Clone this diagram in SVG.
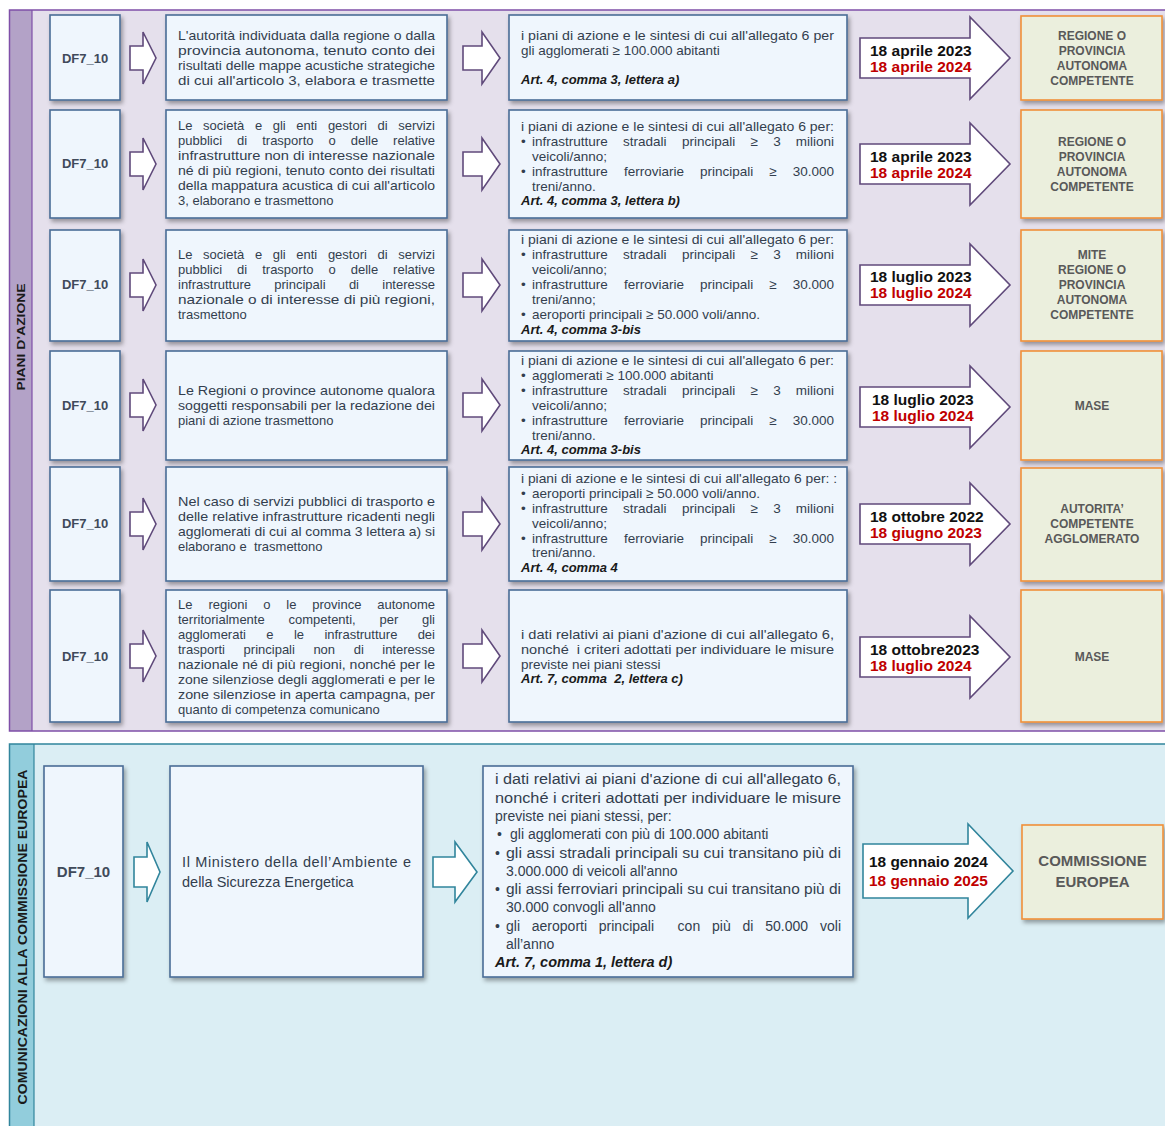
<svg xmlns="http://www.w3.org/2000/svg" width="1165" height="1126" viewBox="0 0 1165 1126">
<defs>
<filter id="sh" x="-10%" y="-10%" width="130%" height="130%">
<feDropShadow dx="2" dy="3" stdDeviation="2" flood-color="#000" flood-opacity="0.35"/>
</filter>
<path id="sa" d="M0,-12 H13 V-26 L26,0 L13,26 V12 H0 Z"/>
<path id="sa2" d="M0,-12 H19 V-26 L37,0 L19,26 V12 H0 Z"/>
<path id="ba" d="M0,-20 H110 V-41 L150,0 L110,41 V20 H0 Z"/>
<path id="tsa" d="M0,-15 H13 V-30 L26,0 L13,30 V15 H0 Z"/>
<path id="tsa2" d="M0,-15 H22 V-30 L44,0 L22,30 V15 H0 Z"/>
<path id="tba" d="M0,-27 H105 V-47 L150,0 L105,47 V27 H0 Z"/>
</defs>
<style>
text{font-family:"Liberation Sans",Arial,sans-serif}
.box{fill:#eff6fd;stroke:#4a6d96;stroke-width:1.6;filter:url(#sh)}
.dest{fill:#ebefdd;stroke:#f0903a;stroke-width:1.6;filter:url(#sh)}
.t{font-size:13px;fill:#333e4e}
.c{font-size:13.5px;fill:#333e4e}
.tb{font-size:14.5px;fill:#333e4e}
.tc{font-size:14px;fill:#333e4e}
.art{font-size:13px;font-weight:bold;font-style:italic;fill:#1a1a1a}
.artb{font-size:14.5px;font-weight:bold;font-style:italic;fill:#1a1a1a}
.df{font-size:13px;font-weight:bold;fill:#404a5a;text-anchor:middle}
.dfb{font-size:15px;font-weight:bold;fill:#404a5a;text-anchor:middle}
.dt{font-size:15.5px;font-weight:bold;fill:#111}
.dtb{font-size:15.4px;font-weight:bold;fill:#111}
.red{fill:#c00000}
.dn{font-size:12px;font-weight:bold;fill:#595959;text-anchor:middle}
.dnb{font-size:15px;font-weight:bold;fill:#595959;text-anchor:middle}
.ap{fill:#fff;stroke:#604a7b;stroke-width:1.6}
.at{fill:#fff;stroke:#31859c;stroke-width:1.6}
.lab{font-weight:bold;fill:#1a1a1a;text-anchor:middle}
.e{text-anchor:end}
</style>

<!-- sections -->
<g id="section-piani">
<rect x="9" y="10" width="1160" height="721" fill="#e5e0ec"/>
<rect x="9" y="10" width="23" height="721" fill="#b3a2c7"/>
<path d="M1165,10 H9.5 V731 H1165" fill="none" stroke="#7f4fa8" stroke-width="1.5"/>
<line x1="32" y1="10" x2="32" y2="731" stroke="#7f4fa8" stroke-width="1.2"/>
<text class="lab" font-size="11.5" transform="translate(25,337) rotate(-90)" textLength="107" lengthAdjust="spacingAndGlyphs">PIANI D’AZIONE</text>
</g>
<g id="section-ce">
<rect x="9" y="744" width="1160" height="390" fill="#dbeef4"/>
<rect x="9" y="744" width="25" height="390" fill="#92cddc"/>
<path d="M1165,744 H9.5 V1126" fill="none" stroke="#31859c" stroke-width="1.5"/>
<line x1="34" y1="744" x2="34" y2="1126" stroke="#31859c" stroke-width="1.2"/>
<text class="lab" font-size="13" transform="translate(26.5,937) rotate(-90)" textLength="335" lengthAdjust="spacingAndGlyphs">COMUNICAZIONI ALLA COMMISSIONE EUROPEA</text>
</g>

<!-- Row 1 -->
<g id="df1"><rect class="box" x="50" y="15" width="70" height="85"/><text class="df" x="85" y="62.5">DF7_10</text></g>
<g id="txt1"><rect class="box" x="166" y="15" width="281" height="85"/>
<text class="t" x="178" y="39.5" textLength="257" lengthAdjust="spacingAndGlyphs">L'autorità individuata dalla regione o dalla</text>
<text class="t" x="178" y="54.5" textLength="257" lengthAdjust="spacingAndGlyphs">provincia autonoma, tenuto conto dei</text>
<text class="t" x="178" y="69.5" textLength="257" lengthAdjust="spacingAndGlyphs">risultati delle mappe acustiche strategiche</text>
<text class="t" x="178" y="84.5" textLength="257" lengthAdjust="spacingAndGlyphs">di cui all'articolo 3, elabora e trasmette</text>
</g>
<g id="cnt1"><rect class="box" x="509" y="15" width="338" height="85"/>
<text class="c" x="521" y="39.5" textLength="313" lengthAdjust="spacingAndGlyphs">i piani di azione e le sintesi di cui all'allegato 6 per</text>
<text class="c" x="521" y="54.5">gli agglomerati ≥ 100.000 abitanti</text>
<text class="art" x="521" y="83.5">Art. 4, comma 3, lettera a)</text>
</g>
<g id="dest1"><rect class="dest" x="1021" y="16" width="141" height="84"/>
<text class="dn" x="1092" y="39.5">REGIONE O</text><text class="dn" x="1092" y="54.5">PROVINCIA</text><text class="dn" x="1092" y="69.5">AUTONOMA</text><text class="dn" x="1092" y="84.5">COMPETENTE</text>
</g>

<!-- Row 2 -->
<g id="df2"><rect class="box" x="50" y="110" width="70" height="108"/><text class="df" x="85" y="168">DF7_10</text></g>
<g id="txt2"><rect class="box" x="166" y="110" width="281" height="108"/>
<text class="t" y="129.5"><tspan x="178">Le </tspan><tspan x="203.1">società </tspan><tspan x="254.9">e </tspan><tspan x="272.7">gli </tspan><tspan x="296.3">enti </tspan><tspan x="327.9">gestori </tspan><tspan x="377.5">di </tspan><tspan x="435" class="e">servizi</tspan></text>
<text class="t" y="144.5"><tspan x="178">pubblici </tspan><tspan x="237.1">di </tspan><tspan x="262.2">trasporto </tspan><tspan x="328.5">o </tspan><tspan x="350.7">delle </tspan><tspan x="435" class="e">relative</tspan></text>
<text class="t" x="178" y="159.5" textLength="257" lengthAdjust="spacingAndGlyphs">infrastrutture non di interesse nazionale</text>
<text class="t" x="178" y="174.5" textLength="257" lengthAdjust="spacingAndGlyphs">né di più regioni, tenuto conto dei risultati</text>
<text class="t" x="178" y="189.5" textLength="257" lengthAdjust="spacingAndGlyphs">della mappatura acustica di cui all'articolo</text>
<text class="t" x="178" y="204.5">3, elaborano e trasmettono</text>
</g>
<g id="cnt2"><rect class="box" x="509" y="110" width="338" height="108"/>
<text class="c" x="521" y="130.5" textLength="313" lengthAdjust="spacingAndGlyphs">i piani di azione e le sintesi di cui all'allegato 6 per:</text>
<text class="c" x="521" y="145.5">•</text><text class="c" y="145.5"><tspan x="532">infrastrutture </tspan><tspan x="623.1">stradali </tspan><tspan x="681.9">principali </tspan><tspan x="750.5">≥ </tspan><tspan x="773.2">3 </tspan><tspan x="834" class="e">milioni</tspan></text>
<text class="c" x="532" y="160.5">veicoli/anno;</text>
<text class="c" x="521" y="175.5">•</text><text class="c" y="175.5"><tspan x="532">infrastrutture </tspan><tspan x="623.9">ferroviarie </tspan><tspan x="699.9">principali </tspan><tspan x="769.3">≥ </tspan><tspan x="834" class="e">30.000</tspan></text>
<text class="c" x="532" y="190.5">treni/anno.</text>
<text class="art" x="521" y="204.5">Art. 4, comma 3, lettera b)</text>
</g>
<g id="dest2"><rect class="dest" x="1021" y="110" width="141" height="108"/>
<text class="dn" x="1092" y="145.5">REGIONE O</text><text class="dn" x="1092" y="160.5">PROVINCIA</text><text class="dn" x="1092" y="175.5">AUTONOMA</text><text class="dn" x="1092" y="190.5">COMPETENTE</text>
</g>

<!-- Row 3 -->
<g id="df3"><rect class="box" x="50" y="230" width="70" height="111"/><text class="df" x="85" y="289">DF7_10</text></g>
<g id="txt3"><rect class="box" x="166" y="230" width="281" height="111"/>
<text class="t" y="258.5"><tspan x="178">Le </tspan><tspan x="203.1">società </tspan><tspan x="254.9">e </tspan><tspan x="272.7">gli </tspan><tspan x="296.3">enti </tspan><tspan x="327.9">gestori </tspan><tspan x="377.5">di </tspan><tspan x="435" class="e">servizi</tspan></text>
<text class="t" y="273.5"><tspan x="178">pubblici </tspan><tspan x="237.1">di </tspan><tspan x="262.2">trasporto </tspan><tspan x="328.5">o </tspan><tspan x="350.7">delle </tspan><tspan x="435" class="e">relative</tspan></text>
<text class="t" y="288.5"><tspan x="178">infrastrutture </tspan><tspan x="274.3">principali </tspan><tspan x="348.9">di </tspan><tspan x="435" class="e">interesse</tspan></text>
<text class="t" x="178" y="303.5" textLength="257" lengthAdjust="spacingAndGlyphs">nazionale o di interesse di più regioni,</text>
<text class="t" x="178" y="318.5">trasmettono</text>
</g>
<g id="cnt3"><rect class="box" x="509" y="230" width="338" height="111"/>
<text class="c" x="521" y="243.5" textLength="313" lengthAdjust="spacingAndGlyphs">i piani di azione e le sintesi di cui all'allegato 6 per:</text>
<text class="c" x="521" y="258.5">•</text><text class="c" y="258.5"><tspan x="532">infrastrutture </tspan><tspan x="623.1">stradali </tspan><tspan x="681.9">principali </tspan><tspan x="750.5">≥ </tspan><tspan x="773.2">3 </tspan><tspan x="834" class="e">milioni</tspan></text>
<text class="c" x="532" y="273.5">veicoli/anno;</text>
<text class="c" x="521" y="288.5">•</text><text class="c" y="288.5"><tspan x="532">infrastrutture </tspan><tspan x="623.9">ferroviarie </tspan><tspan x="699.9">principali </tspan><tspan x="769.3">≥ </tspan><tspan x="834" class="e">30.000</tspan></text>
<text class="c" x="532" y="303.5">treni/anno;</text>
<text class="c" x="521" y="318.5">•</text><text class="c" x="532" y="318.5">aeroporti principali ≥ 50.000 voli/anno.</text>
<text class="art" x="521" y="333.5">Art. 4, comma 3-bis</text>
</g>
<g id="dest3"><rect class="dest" x="1021" y="230" width="141" height="111"/>
<text class="dn" x="1092" y="258.5">MITE</text><text class="dn" x="1092" y="273.5">REGIONE O</text><text class="dn" x="1092" y="288.5">PROVINCIA</text><text class="dn" x="1092" y="303.5">AUTONOMA</text><text class="dn" x="1092" y="318.5">COMPETENTE</text>
</g>

<!-- Row 4 -->
<g id="df4"><rect class="box" x="50" y="351" width="70" height="109"/><text class="df" x="85" y="410">DF7_10</text></g>
<g id="txt4"><rect class="box" x="166" y="351" width="281" height="109"/>
<text class="t" x="178" y="394.5" textLength="257" lengthAdjust="spacingAndGlyphs">Le Regioni o province autonome qualora</text>
<text class="t" x="178" y="409.5" textLength="257" lengthAdjust="spacingAndGlyphs">soggetti responsabili per la redazione dei</text>
<text class="t" x="178" y="424.5">piani di azione trasmettono</text>
</g>
<g id="cnt4"><rect class="box" x="509" y="351" width="338" height="109"/>
<text class="c" x="521" y="364.5" textLength="313" lengthAdjust="spacingAndGlyphs">i piani di azione e le sintesi di cui all'allegato 6 per:</text>
<text class="c" x="521" y="379.5">•</text><text class="c" x="532" y="379.5">agglomerati ≥ 100.000 abitanti</text>
<text class="c" x="521" y="394.5">•</text><text class="c" y="394.5"><tspan x="532">infrastrutture </tspan><tspan x="623.1">stradali </tspan><tspan x="681.9">principali </tspan><tspan x="750.5">≥ </tspan><tspan x="773.2">3 </tspan><tspan x="834" class="e">milioni</tspan></text>
<text class="c" x="532" y="409.5">veicoli/anno;</text>
<text class="c" x="521" y="424.5">•</text><text class="c" y="424.5"><tspan x="532">infrastrutture </tspan><tspan x="623.9">ferroviarie </tspan><tspan x="699.9">principali </tspan><tspan x="769.3">≥ </tspan><tspan x="834" class="e">30.000</tspan></text>
<text class="c" x="532" y="439.5">treni/anno.</text>
<text class="art" x="521" y="453.5">Art. 4, comma 3-bis</text>
</g>
<g id="dest4"><rect class="dest" x="1021" y="351" width="141" height="109"/>
<text class="dn" x="1092" y="409.5">MASE</text>
</g>

<!-- Row 5 -->
<g id="df5"><rect class="box" x="50" y="467" width="70" height="114"/><text class="df" x="85" y="528">DF7_10</text></g>
<g id="txt5"><rect class="box" x="166" y="467" width="281" height="114"/>
<text class="t" x="178" y="505.5" textLength="257" lengthAdjust="spacingAndGlyphs">Nel caso di servizi pubblici di trasporto e</text>
<text class="t" x="178" y="520.5" textLength="257" lengthAdjust="spacingAndGlyphs">delle relative infrastrutture ricadenti negli</text>
<text class="t" x="178" y="535.5" textLength="257" lengthAdjust="spacingAndGlyphs">agglomerati di cui al comma 3 lettera a) si</text>
<text class="t" x="178" y="550.5" xml:space="preserve">elaborano e  trasmettono</text>
</g>
<g id="cnt5"><rect class="box" x="509" y="467" width="338" height="114"/>
<text class="c" x="521" y="482.5" textLength="316" lengthAdjust="spacingAndGlyphs">i piani di azione e le sintesi di cui all'allegato 6 per: :</text>
<text class="c" x="521" y="497.5">•</text><text class="c" x="532" y="497.5">aeroporti principali ≥ 50.000 voli/anno.</text>
<text class="c" x="521" y="512.5">•</text><text class="c" y="512.5"><tspan x="532">infrastrutture </tspan><tspan x="623.1">stradali </tspan><tspan x="681.9">principali </tspan><tspan x="750.5">≥ </tspan><tspan x="773.2">3 </tspan><tspan x="834" class="e">milioni</tspan></text>
<text class="c" x="532" y="527.5">veicoli/anno;</text>
<text class="c" x="521" y="542.5">•</text><text class="c" y="542.5"><tspan x="532">infrastrutture </tspan><tspan x="623.9">ferroviarie </tspan><tspan x="699.9">principali </tspan><tspan x="769.3">≥ </tspan><tspan x="834" class="e">30.000</tspan></text>
<text class="c" x="532" y="556.5">treni/anno.</text>
<text class="art" x="521" y="571.5">Art. 4, comma 4</text>
</g>
<g id="dest5"><rect class="dest" x="1021" y="468" width="141" height="113"/>
<text class="dn" x="1092" y="512.5">AUTORITA’</text><text class="dn" x="1092" y="527.5">COMPETENTE</text><text class="dn" x="1092" y="542.5">AGGLOMERATO</text>
</g>

<!-- Row 6 -->
<g id="df6"><rect class="box" x="50" y="590" width="70" height="132"/><text class="df" x="85" y="661">DF7_10</text></g>
<g id="txt6"><rect class="box" x="166" y="590" width="281" height="132"/>
<text class="t" y="608.5"><tspan x="178">Le </tspan><tspan x="208.4">regioni </tspan><tspan x="263.2">o </tspan><tspan x="286.3">le </tspan><tspan x="312.3">province </tspan><tspan x="435" class="e">autonome</tspan></text>
<text class="t" y="623.5"><tspan x="178">territorialmente </tspan><tspan x="288.5">competenti, </tspan><tspan x="379.5">per </tspan><tspan x="435" class="e">gli</tspan></text>
<text class="t" y="638.5"><tspan x="178">agglomerati </tspan><tspan x="266.3">e </tspan><tspan x="293.9">le </tspan><tspan x="324.4">infrastrutture </tspan><tspan x="435" class="e">dei</tspan></text>
<text class="t" y="653.5"><tspan x="178">trasporti </tspan><tspan x="243.6">principali </tspan><tspan x="313.4">non </tspan><tspan x="353.7">di </tspan><tspan x="435" class="e">interesse</tspan></text>
<text class="t" x="178" y="668.5" textLength="257" lengthAdjust="spacingAndGlyphs">nazionale né di più regioni, nonché per le</text>
<text class="t" x="178" y="683.5" textLength="257" lengthAdjust="spacingAndGlyphs">zone silenziose degli agglomerati e per le</text>
<text class="t" x="178" y="698.5" textLength="257" lengthAdjust="spacingAndGlyphs">zone silenziose in aperta campagna, per</text>
<text class="t" x="178" y="713.5">quanto di competenza comunicano</text>
</g>
<g id="cnt6"><rect class="box" x="509" y="590" width="338" height="132"/>
<text class="c" x="521" y="638.5" textLength="313" lengthAdjust="spacingAndGlyphs">i dati relativi ai piani d'azione di cui all'allegato 6,</text>
<text class="c" x="521" y="653.5" textLength="313" lengthAdjust="spacingAndGlyphs" xml:space="preserve">nonché  i criteri adottati per individuare le misure</text>
<text class="c" x="521" y="668.5">previste nei piani stessi</text>
<text class="art" x="521" y="682.5" xml:space="preserve">Art. 7, comma  2, lettera c)</text>
</g>
<g id="dest6"><rect class="dest" x="1021" y="590" width="141" height="132"/>
<text class="dn" x="1092" y="660.5">MASE</text>
</g>

<!-- Bottom section nodes -->
<g id="df7"><rect class="box" x="44" y="766" width="79" height="211"/><text class="dfb" x="83.5" y="877">DF7_10</text></g>
<g id="txt7"><rect class="box" x="170" y="766" width="253" height="211"/>
<text class="tb" x="182" y="867" textLength="229" lengthAdjust="spacing">Il Ministero della dell’Ambiente e</text>
<text class="tb" x="182" y="887">della Sicurezza Energetica</text>
</g>
<g id="cnt7"><rect class="box" x="483" y="766" width="370" height="211"/>
<text class="tc" x="495" y="784" textLength="346" lengthAdjust="spacingAndGlyphs">i dati relativi ai piani d'azione di cui all'allegato 6,</text>
<text class="tc" x="495" y="803" textLength="346" lengthAdjust="spacingAndGlyphs">nonché i criteri adottati per individuare le misure</text>
<text class="tc" x="495" y="821">previste nei piani stessi, per:</text>
<text class="tc" x="497" y="839">•</text><text class="tc" x="510" y="839">gli agglomerati con più di 100.000 abitanti</text>
<text class="tc" x="495" y="858">•</text><text class="tc" x="506" y="858" textLength="335" lengthAdjust="spacingAndGlyphs">gli assi stradali principali su cui transitano più di</text>
<text class="tc" x="506" y="876">3.000.000 di veicoli all'anno</text>
<text class="tc" x="495" y="894">•</text><text class="tc" x="506" y="894" textLength="335" lengthAdjust="spacingAndGlyphs">gli assi ferroviari principali su cui transitano più di</text>
<text class="tc" x="506" y="912">30.000 convogli all'anno</text>
<text class="tc" x="495" y="931">•</text><text class="tc" y="931"><tspan x="506">gli </tspan><tspan x="531.8">aeroporti </tspan><tspan x="598.8">principali </tspan><tspan x="677.6">con </tspan><tspan x="712">più </tspan><tspan x="742.5">di </tspan><tspan x="765.2">50.000 </tspan><tspan x="841" class="e">voli</tspan></text>
<text class="tc" x="506" y="949">all’anno</text>
<text class="artb" x="495" y="967">Art. 7, comma 1, lettera d)</text>
</g>
<g id="dest7"><rect class="dest" x="1022" y="825" width="141" height="94"/>
<text class="dnb" x="1092.5" y="866">COMMISSIONE</text><text class="dnb" x="1092.5" y="887">EUROPEA</text>
</g>

<!-- Connectors -->
<g id="connectors">
<use href="#sa" class="ap" x="130" y="58"/>
<use href="#sa2" class="ap" x="463" y="58"/>
<use href="#ba" class="ap" x="860" y="58"/>
<use href="#sa" class="ap" x="130" y="164"/>
<use href="#sa2" class="ap" x="463" y="164"/>
<use href="#ba" class="ap" x="860" y="164"/>
<use href="#sa" class="ap" x="130" y="285"/>
<use href="#sa2" class="ap" x="463" y="285"/>
<use href="#ba" class="ap" x="860" y="285"/>
<use href="#sa" class="ap" x="130" y="405"/>
<use href="#sa2" class="ap" x="463" y="405"/>
<use href="#ba" class="ap" x="860" y="407"/>
<use href="#sa" class="ap" x="130" y="524"/>
<use href="#sa2" class="ap" x="463" y="524"/>
<use href="#ba" class="ap" x="860" y="524"/>
<use href="#sa" class="ap" x="130" y="656"/>
<use href="#sa2" class="ap" x="463" y="656"/>
<use href="#ba" class="ap" x="860" y="657"/>
<use href="#tsa" class="at" x="134" y="872"/>
<use href="#tsa2" class="at" x="433" y="872"/>
<use href="#tba" class="at" x="863" y="871"/>
<text class="dt" x="870" y="55.5">18 aprile 2023</text><text class="dt red" x="870" y="71.5">18 aprile 2024</text>
<text class="dt" x="870" y="161.5">18 aprile 2023</text><text class="dt red" x="870" y="177.5">18 aprile 2024</text>
<text class="dt" x="870" y="281.5">18 luglio 2023</text><text class="dt red" x="870" y="297.5">18 luglio 2024</text>
<text class="dt" x="872" y="404.5">18 luglio 2023</text><text class="dt red" x="872" y="420.5">18 luglio 2024</text>
<text class="dt" x="870" y="521.5">18 ottobre 2022</text><text class="dt red" x="870" y="537.5">18 giugno 2023</text>
<text class="dt" x="870" y="654.5">18 ottobre2023</text><text class="dt red" x="870" y="670.5">18 luglio 2024</text>
<text class="dtb" x="869" y="866.5">18 gennaio 2024</text><text class="dtb red" x="869" y="885.5">18 gennaio 2025</text>
</g>
</svg>
